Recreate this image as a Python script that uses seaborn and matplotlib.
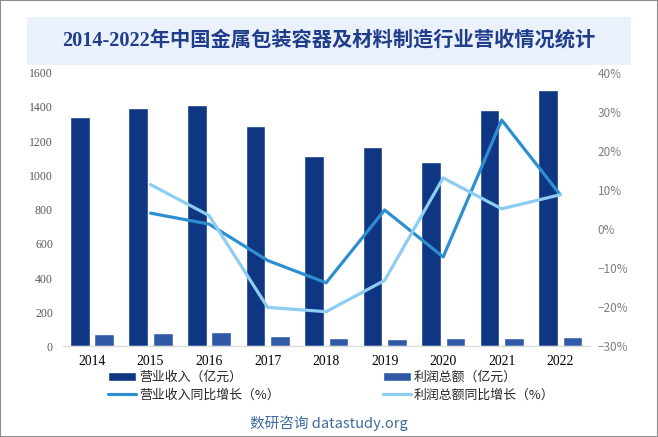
import seaborn as sns
import pandas as pd
from matplotlib import pyplot as plt
from matplotlib.patches import Rectangle
import numpy as np

sns.set_style("white")
plt.rcParams['font.family'] = ['Noto Sans CJK SC', 'DejaVu Sans']
plt.rcParams['axes.unicode_minus'] = True

# data
years = [2014, 2015, 2016, 2017, 2018, 2019, 2020, 2021, 2022]
revenue = [1341, 1394, 1411, 1288, 1113, 1165, 1078, 1382, 1499]
profit = [72, 78, 84, 62, 49, 43, 49, 49, 54]
revenue_growth = [np.nan, 4.1, 1.3, -8.0, -13.7, 4.9, -7.1, 27.9, 8.8]
profit_growth = [np.nan, 11.4, 3.5, -20.0, -21.1, -13.1, 13.1, 5.2, 8.8]

rev_label = "营业收入（亿元）"
profit_label = "利润总额（亿元）"
rev_g_label = "营业收入同比增长（%）"
profit_g_label = "利润总额同比增长（%）"

bars = pd.DataFrame({
    "year": years * 2,
    "value": revenue + profit,
    "series": [rev_label] * len(years) + [profit_label] * len(years),
})
growth = pd.DataFrame({
    "year": years,
    "rev": revenue_growth,
    "profit": profit_growth,
})

fig = plt.figure(figsize=(6.58, 4.37), dpi=100)
ax = fig.add_axes([0.0953, 0.2071, 0.8006, 0.6265])

sns.barplot(data=bars, x="year", y="value", hue="series",
            palette=["#0E3683", "#305AA8"], native_scale=True,
            width=0.836, gap=0.2, ax=ax, saturation=1)

ax2 = ax.twinx()
sns.lineplot(data=growth, x="year", y="rev", color="#2D8FCF",
             linewidth=2.3, ax=ax2, label=rev_g_label)
sns.lineplot(data=growth, x="year", y="profit", color="#8DCDF2",
             linewidth=2.3, ax=ax2, label=profit_g_label)

ax.set_xlim(years[0] - 0.5, years[-1] + 0.5)
ax.set_ylim(0, 1600)
ax2.set_ylim(-30, 40)
ax.set_xticks(years)
ax.set_xticklabels([str(y) for y in years])
ax.set_yticks(range(0, 1601, 200))
ax2.set_yticks(range(-30, 41, 10))
ax2.set_yticklabels(["%d%%" % v if v >= 0 else "\u2212%d%%" % -v for v in range(-30, 41, 10)])

ax.set_xlabel("")
ax.set_ylabel("")
ax2.set_xlabel("")
ax2.set_ylabel("")

for a in (ax, ax2):
    for s in ["top", "left", "right"]:
        a.spines[s].set_visible(False)
    a.spines["bottom"].set_color("#D9D9D9")
    a.grid(False)

ax.tick_params(axis="y", length=0, pad=7, labelsize=8.5, labelcolor="#595959")
ax.tick_params(axis="x", length=0, pad=6, labelsize=9.8, labelcolor="#000000")
ax2.tick_params(axis="y", length=0, pad=6, labelsize=8.5, labelcolor="#7F7F7F")
for lab in ax.get_yticklabels() + ax.get_xticklabels():
    lab.set_family(["Liberation Serif", "DejaVu Serif"])

# legend
h1, l1 = ax.get_legend_handles_labels()
h2, l2 = ax2.get_legend_handles_labels()
if ax.get_legend() is not None:
    ax.get_legend().remove()
if ax2.get_legend() is not None:
    ax2.get_legend().remove()
handles = [h1[0], h2[0], h1[1], h2[1]]
labels = [l1[0], l2[0], l1[1], l2[1]]
fig.legend(handles, labels, ncol=2, loc="upper left",
           bbox_to_anchor=(108 / 658, 1 - 371 / 437), frameon=False,
           fontsize=9.3, handlelength=2.2, handleheight=0.8, handletextpad=0.2,
           columnspacing=8.0, labelspacing=0.4, borderpad=0, borderaxespad=0)

# title box
fig.patches.append(Rectangle((27 / 658, 1 - 65 / 437), 604 / 658, 48 / 437,
                             transform=fig.transFigure, facecolor="#EAF1FB",
                             edgecolor="none", zorder=0))
fig.text(0.5, 1 - 41 / 437, "2014-2022年中国金属包装容器及材料制造行业营收情况统计",
         ha="center", va="center", fontsize=14.6, fontweight="bold",
         color="#1F3D8A", family=["Liberation Serif", "Noto Sans CJK SC"])

fig.text(0.5, 1 - 423 / 437, "数研咨询 datastudy.org", ha="center", va="center",
         fontsize=10.5, color="#3F6B9F")

fig.patches.append(Rectangle((0, 0), 1, 1, transform=fig.transFigure,
                             fill=False, edgecolor="#8C8C8C", linewidth=1.5))

plt.savefig("out.png", dpi=100)
